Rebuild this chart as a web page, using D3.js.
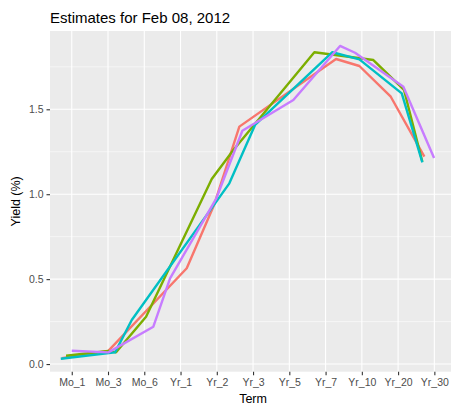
<!DOCTYPE html>
<html><head><meta charset="utf-8">
<script src="https://cdn.jsdelivr.net/npm/d3@7"></script>
<style>body{margin:0;background:#fff}svg{display:block}text{font-family:"Liberation Sans",Arial,sans-serif}</style>
</head><body>
<script>
const title = "Estimates for Feb 08, 2012";
const terms = ["Mo_1","Mo_3","Mo_6","Yr_1","Yr_2","Yr_3","Yr_5","Yr_7","Yr_10","Yr_20","Yr_30"];
const yTicks = [0, 0.5, 1.0, 1.5];
const seriesNames = ["A","B","C","D"];
const colors = ["#F8766D","#7CAE00","#00BFC4","#C77CFF"];
// positions along term axis (category index units) and yields (%)
const redPos   = [-0.276,1.009,3.171,3.924,4.622,7.289,7.932,8.798,9.724];
const redVal   = [0.034,0.078,0.564,0.936,1.398,1.796,1.755,1.574,1.221];
const greenPos = [-0.157,1.009,1.222,2.049,3.861,4.457,6.691,8.318,9.164,9.669];
const greenVal = [0.049,0.077,0.069,0.279,1.090,1.260,1.836,1.790,1.614,1.191];
const cyanPos  = [-0.303,1.194,1.655,4.346,5.055,7.187,7.932,9.101,9.669];
const cyanVal  = [0.031,0.069,0.259,1.064,1.408,1.836,1.794,1.594,1.188];
const purplePos= [0.0,1.009,2.250,2.711,3.980,4.705,6.111,7.399,7.813,9.145,9.992];
const purpleVal= [0.078,0.069,0.220,0.505,0.972,1.374,1.555,1.873,1.833,1.633,1.213];

const series = [[redPos,redVal],[greenPos,greenVal],[cyanPos,cyanVal],[purplePos,purpleVal]];

const W=451,H=407;
const svg=d3.select("body").append("svg").attr("width",W).attr("height",H);
const pL=50, pT=31, pB=371.7, step=36.26, pR=pL+step*11.2;
const x=d3.scaleLinear().domain([-0.6,10.6]).range([pL,pR]);
const xb=d3.scalePoint().domain(terms).range([x(0),x(10)]);
const y=d3.scaleLinear().domain([-0.045,1.961]).range([pB,pT]);

svg.append("rect").attr("x",pL).attr("y",pT).attr("width",pR-pL).attr("height",pB-pT).attr("fill","#EBEBEB");
const minor=[0.25,0.75,1.25,1.75];
svg.selectAll(".mn").data(minor).enter().append("line").attr("x1",pL).attr("x2",pR)
  .attr("y1",d=>y(d)).attr("y2",d=>y(d)).attr("stroke","#fff").attr("stroke-width",0.55);
svg.selectAll(".mj").data(yTicks).enter().append("line").attr("x1",pL).attr("x2",pR)
  .attr("y1",d=>y(d)).attr("y2",d=>y(d)).attr("stroke","#fff").attr("stroke-width",1.1);
svg.selectAll(".vx").data(terms).enter().append("line").attr("y1",pT).attr("y2",pB)
  .attr("x1",d=>xb(d)).attr("x2",d=>xb(d)).attr("stroke","#fff").attr("stroke-width",1.1);

const line=d3.line().x(d=>x(d[0])).y(d=>y(d[1]));
series.forEach((s,i)=>{
  const pts=s[0].map((p,j)=>[p,s[1][j]]);
  svg.append("path").attr("d",line(pts)).attr("fill","none").attr("stroke",colors[i])
    .attr("stroke-width",2.4).attr("stroke-linejoin","round");
});

// axes
const xa=svg.append("g").attr("transform",`translate(0,${pB})`).call(d3.axisBottom(xb).tickSize(3.5).tickPadding(3));
const ya=svg.append("g").attr("transform",`translate(${pL},0)`).call(d3.axisLeft(y).tickValues(yTicks).tickFormat(d3.format(".1f")).tickSize(3.5).tickPadding(3));
[xa,ya].forEach(g=>{g.select(".domain").remove();g.selectAll("line").attr("stroke","#333").attr("stroke-width",1.1);
  g.selectAll("text").attr("fill","#4D4D4D").style("font-size","10.5px").style("font-family","Liberation Sans, Arial, sans-serif");});

svg.append("text").attr("x",pL).attr("y",23).text(title).style("font-size","15px").attr("fill","#000");
svg.append("text").attr("x",(pL+pR)/2).attr("y",403).attr("text-anchor","middle").text("Term").style("font-size","12.5px");
svg.append("text").attr("transform",`translate(20,${(pT+pB)/2}) rotate(-90)`).attr("text-anchor","middle").text("Yield (%)").style("font-size","12.5px");
</script>
</body></html>
